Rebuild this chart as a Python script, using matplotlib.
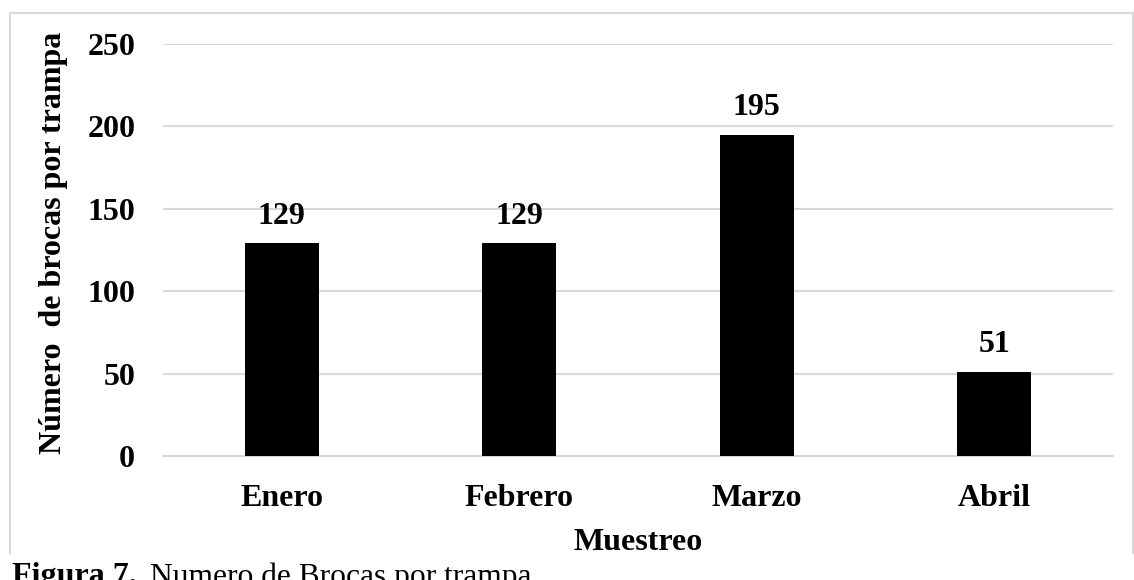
import matplotlib.pyplot as plt
from matplotlib.lines import Line2D

meses = ["Enero", "Febrero", "Marzo", "Abril"]
brocas = [129, 129, 195, 51]
y_ticks = [0, 50, 100, 150, 200, 250]

plt.rcParams['font.family'] = ['Liberation Serif', 'DejaVu Serif']

fig = plt.figure(figsize=(11.34, 5.8), dpi=100)
ax = fig.add_axes([163 / 1134, 124 / 580, 950 / 1134, 412 / 580])

x = range(len(meses))
ax.bar(x, brocas, width=0.31, color="black", zorder=3)
for xi, v in zip(x, brocas):
    ax.annotate(str(v), (xi, v), xytext=(0, 9), textcoords="offset points",
                ha="center", va="bottom", fontsize=23, fontweight="bold")

ax.set_xlim(-0.5, len(meses) - 0.5)
ax.set_ylim(0, 250)
ax.set_yticks(y_ticks)
ax.set_xticks(list(x))
ax.set_xticklabels(meses)
ax.tick_params(axis="both", length=0, labelsize=23)
ax.tick_params(axis="x", pad=20)
ax.tick_params(axis="y", pad=20)
for lab in ax.get_xticklabels() + ax.get_yticklabels():
    lab.set_fontweight("bold")

ax.grid(axis="y", color="#d9d9d9", linewidth=1.5, zorder=0)
for s in ["top", "right", "left"]:
    ax.spines[s].set_visible(False)
ax.spines["bottom"].set_color("#d9d9d9")
ax.spines["bottom"].set_linewidth(1.5)

ax.set_xlabel("Muestreo", fontsize=23, fontweight="bold", labelpad=11)
ax.set_ylabel("Número  de brocas por trampa", fontsize=23, fontweight="bold",
              labelpad=14, y=0.517)

# chart frame (left, top, right; bottom edge hidden under the caption)
fx = [10 / 1134, 10 / 1134, 1133 / 1134, 1133 / 1134]
fy = [27 / 580, 567 / 580, 567 / 580, 27 / 580]
fig.lines.append(Line2D(fx, fy, transform=fig.transFigure,
                        color="#d9d9d9", linewidth=1.5))

# caption below the frame, partly cut off like the source
cap1 = fig.text(12 / 1134, 18 / 580, "Figura 7.", fontsize=23, fontweight="bold", va="top")
fig.canvas.draw()
bb = cap1.get_window_extent()
fig.text((bb.x1 + 13) / 1134, 18 / 580, "Numero de Brocas por trampa",
         fontsize=22.7, va="top")

fig.savefig("out.png", dpi=100)
